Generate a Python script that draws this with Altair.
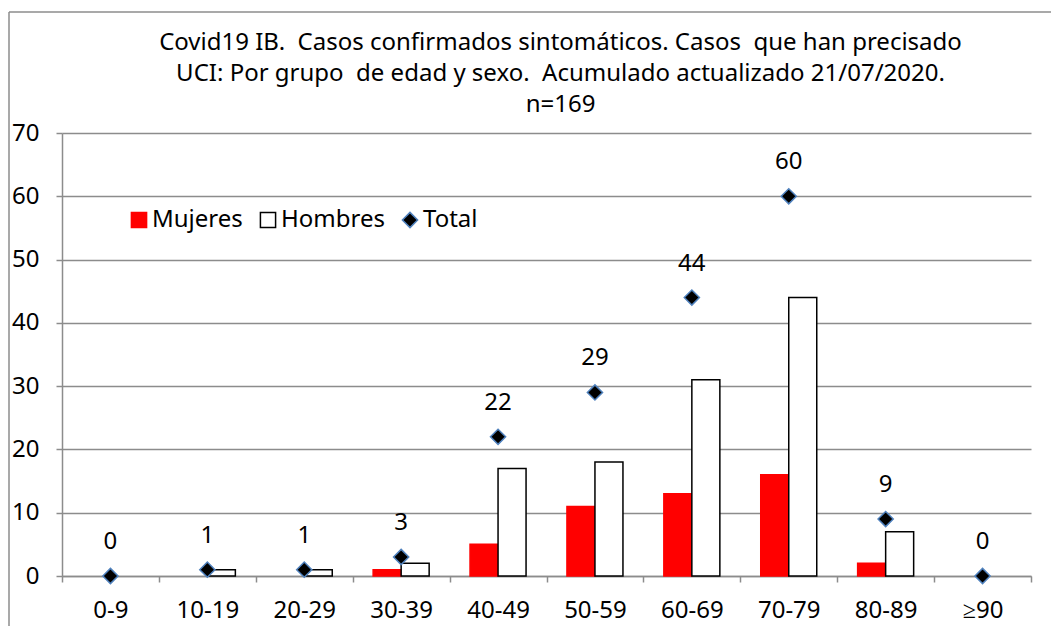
import altair as alt
import pandas as pd

categories = ["0-9", "10-19", "20-29", "30-39", "40-49", "50-59", "60-69", "70-79", "80-89", "≥90"]
mujeres = [0, 0, 0, 1, 5, 11, 13, 16, 2, 0]
hombres = [0, 1, 1, 2, 17, 18, 31, 44, 7, 0]
total = [0, 1, 1, 3, 22, 29, 44, 60, 9, 0]
series = ["Mujeres", "Hombres", "Total"]
title_lines = [
    "Covid19 IB.\u00a0 Casos confirmados sintomáticos. Casos\u00a0 que han precisado",
    "UCI: Por grupo\u00a0 de edad y sexo.\u00a0 Acumulado actualizado 21/07/2020.",
    "n=169",
]

rows = []
for c, m, h, t in zip(categories, mujeres, hombres, total):
    rows.append({"grupo": c, "serie": "Mujeres", "valor": m})
    rows.append({"grupo": c, "serie": "Hombres", "valor": h})
    rows.append({"grupo": c, "serie": "Total", "valor": t})
df = pd.DataFrame(rows)

FONT = "Noto Sans"
FS = 24
W, H = 969, 443

x = alt.X("grupo:N", sort=categories, title=None,
          scale=alt.Scale(paddingInner=0, paddingOuter=0),
          axis=alt.Axis(tickBand="extent", labelAngle=0, labelFontSize=FS, labelFont=FONT,
                        labelColor="#000000", labelPadding=16, tickSize=6, tickColor="#8c8c8c",
                        tickWidth=1.5, domainColor="#8c8c8c", domainWidth=1.5, grid=False))
y = alt.Y("valor:Q", title=None,
          scale=alt.Scale(domain=[0, 70], nice=False),
          axis=alt.Axis(values=[0, 10, 20, 30, 40, 50, 60, 70], labelFontSize=FS, labelFont=FONT,
                        labelColor="#000000", labelPadding=17, tickSize=6, tickColor="#8c8c8c",
                        tickWidth=1.5, domainColor="#8c8c8c", domainWidth=1.5,
                        gridColor="#8c8c8c", gridWidth=1.5))

legend = alt.Legend(title=None, orient="none", legendX=65, legendY=75, direction="horizontal",
                    labelFontSize=FS, labelFont=FONT, labelColor="#000000", symbolSize=230,
                    symbolStrokeWidth=1.5, columnPadding=13, labelOffset=1, padding=0)
fill = alt.Fill("serie:N", scale=alt.Scale(domain=series, range=["#ff0000", "#ffffff", "#000000"]),
                legend=legend)
stroke = alt.Stroke("serie:N", scale=alt.Scale(domain=series, range=["#ff0000", "#000000", "#4f81bd"]),
                    legend=legend)
shape = alt.Shape("serie:N", scale=alt.Scale(domain=series, range=["square", "square", "diamond"]),
                  legend=legend)

base = alt.Chart(df)

bars = base.transform_filter((alt.datum.serie != "Total") & (alt.datum.valor > 0)).mark_bar(
    strokeWidth=1.5).encode(
    x=x, y=y,
    xOffset=alt.XOffset("serie:N", sort=["Mujeres", "Hombres"],
                        scale=alt.Scale(domain=["Mujeres", "Hombres"], paddingInner=0, paddingOuter=0.73)),
    fill=fill, stroke=stroke,
)

points = base.transform_filter(alt.datum.serie == "Total").mark_point(
    filled=True, size=230, strokeWidth=1.5, opacity=1).encode(
    x=x, y=y, fill=fill, stroke=stroke, shape=shape,
)

labels = base.transform_filter(alt.datum.serie == "Total").mark_text(
    dy=-34, fontSize=FS, font=FONT, color="#000000").encode(
    x=x, y=y, text="valor:Q",
)

frame_data = alt.Data(values=[{"k": 1}])
frame_top = alt.Chart(frame_data).mark_rule(color="#8c8c8c", strokeWidth=1.5).encode(
    x=alt.value(-53), x2=alt.value(W + 30), y=alt.value(-121))
frame_left = alt.Chart(frame_data).mark_rule(color="#8c8c8c", strokeWidth=1.5).encode(
    x=alt.value(-53), y=alt.value(-121), y2=alt.value(H + 60))

chart = alt.layer(bars, points, labels, frame_top, frame_left).properties(
    width=W, height=H,
    title=alt.TitleParams(text=title_lines, fontSize=FS, font=FONT, fontWeight="normal",
                          color="#000000", anchor="middle", frame="group", dx=14,
                          lineHeight=31, offset=-106),
    padding={"left": 54, "top": 125, "right": 20, "bottom": 50},
    autosize=alt.AutoSizeParams(type="none"),
    background="#ffffff",
).configure_view(stroke=None)

chart.save("out.html", embed_options={"renderer": "svg", "actions": False})
